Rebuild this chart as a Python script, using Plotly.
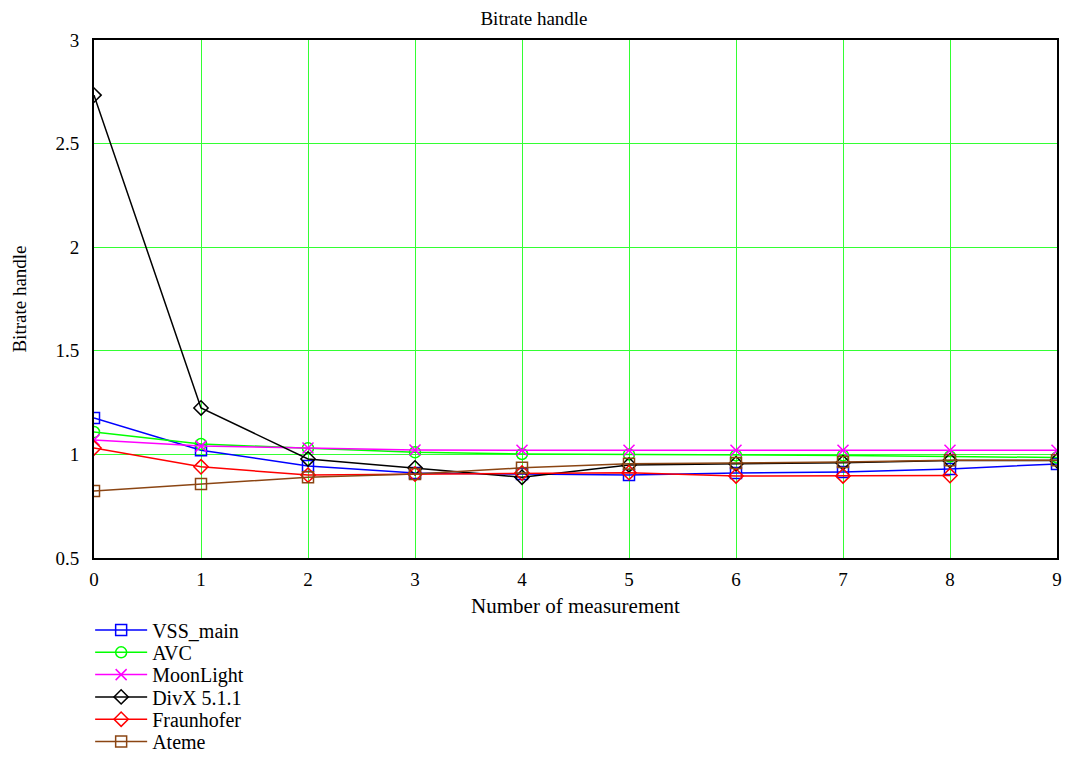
import plotly.graph_objects as go

# Measurement index
x_vals = [0, 1, 2, 3, 4, 5, 6, 7, 8, 9]

# Bitrate handle per codec
vss_main = [1.176, 1.02, 0.944, 0.91, 0.905, 0.90, 0.91, 0.915, 0.93, 0.954]
avc = [1.108, 1.05, 1.03, 1.01, 1.002, 1.0, 0.995, 0.995, 0.99, 0.985]
moonlight = [1.07, 1.04, 1.031, 1.021, 1.02, 1.02, 1.02, 1.02, 1.02, 1.02]
divx = [2.734, 1.224, 0.978, 0.935, 0.89, 0.949, 0.955, 0.96, 0.97, 0.97]
fraunhofer = [1.031, 0.94, 0.90, 0.905, 0.91, 0.912, 0.896, 0.896, 0.898]
ateme = [0.823, 0.857, 0.89, 0.905, 0.935, 0.955, 0.958, 0.963, 0.972, 0.972]

y_ticks = [0.5, 1, 1.5, 2, 2.5, 3]
y_tick_text = ["0.5", "1", "1.5", "2", "2.5", "3"]

series = [
    ("VSS_main", vss_main, "#0000ff", "square-open"),
    ("AVC", avc, "#00ff00", "circle-open"),
    ("MoonLight", moonlight, "#ff00ff", "x-thin-open"),
    ("DivX 5.1.1", divx, "#000000", "diamond-open"),
    ("Fraunhofer", fraunhofer, "#ff0000", "diamond-open"),
    ("Ateme", ateme, "#8B4513", "square-open"),
]

font_family = "Liberation Serif, Times New Roman, serif"
grid_color = "#33ff33"

# Plot area in pixels (used to place the stacked legend rows)
fig_w, fig_h = 1068, 783
m_l, m_r, m_t, m_b = 94, 11, 40, 225
plot_h = fig_h - m_t - m_b
plot_bottom = fig_h - m_b
legend_first_row = 630
legend_row_step = 22.3

fig = go.Figure()
legend_layouts = {}
for i, (name, ys, color, symbol) in enumerate(series):
    legend_id = "legend" if i == 0 else f"legend{i + 1}"
    fig.add_trace(go.Scatter(
        x=x_vals[:len(ys)], y=ys, name=name, mode="lines+markers",
        line=dict(color=color, width=1.5),
        marker=dict(symbol=symbol, size=11, color=color,
                    line=dict(color=color, width=1.5)),
        legend=legend_id,
    ))
    row_y = legend_first_row + i * legend_row_step
    legend_layouts[legend_id] = dict(
        x=-0.004, y=(plot_bottom - row_y) / plot_h,
        xanchor="left", yanchor="middle",
        font=dict(family=font_family, size=20, color="black"),
        itemwidth=52, bgcolor="rgba(0,0,0,0)",
    )

fig.update_layout(
    width=fig_w, height=fig_h,
    margin=dict(l=m_l, r=m_r, t=m_t, b=m_b, autoexpand=False),
    paper_bgcolor="white", plot_bgcolor="white",
    font=dict(family=font_family, size=19, color="black"),
    title=dict(text="Bitrate handle", x=0.5, xanchor="center",
               y=0.977, yanchor="middle", font=dict(size=19)),
    showlegend=True,
    **legend_layouts,
)

fig.update_xaxes(
    range=[0, 9], tickmode="array", tickvals=x_vals,
    ticktext=[str(v) for v in x_vals],
    showgrid=True, gridcolor=grid_color, gridwidth=1,
    showline=True, linecolor="black", linewidth=2, mirror=True,
    zeroline=False, ticks="", ticklabelstandoff=3,
    title=dict(text="Number of measurement", font=dict(size=21), standoff=10),
)
fig.update_yaxes(
    range=[0.5, 3], tickmode="array", tickvals=y_ticks, ticktext=y_tick_text,
    showgrid=True, gridcolor=grid_color, gridwidth=1,
    showline=True, linecolor="black", linewidth=2, mirror=True,
    zeroline=False, ticks="", ticklabelstandoff=9,
    title=dict(text="Bitrate handle", font=dict(size=19), standoff=24),
)

fig.write_html("out.html")
